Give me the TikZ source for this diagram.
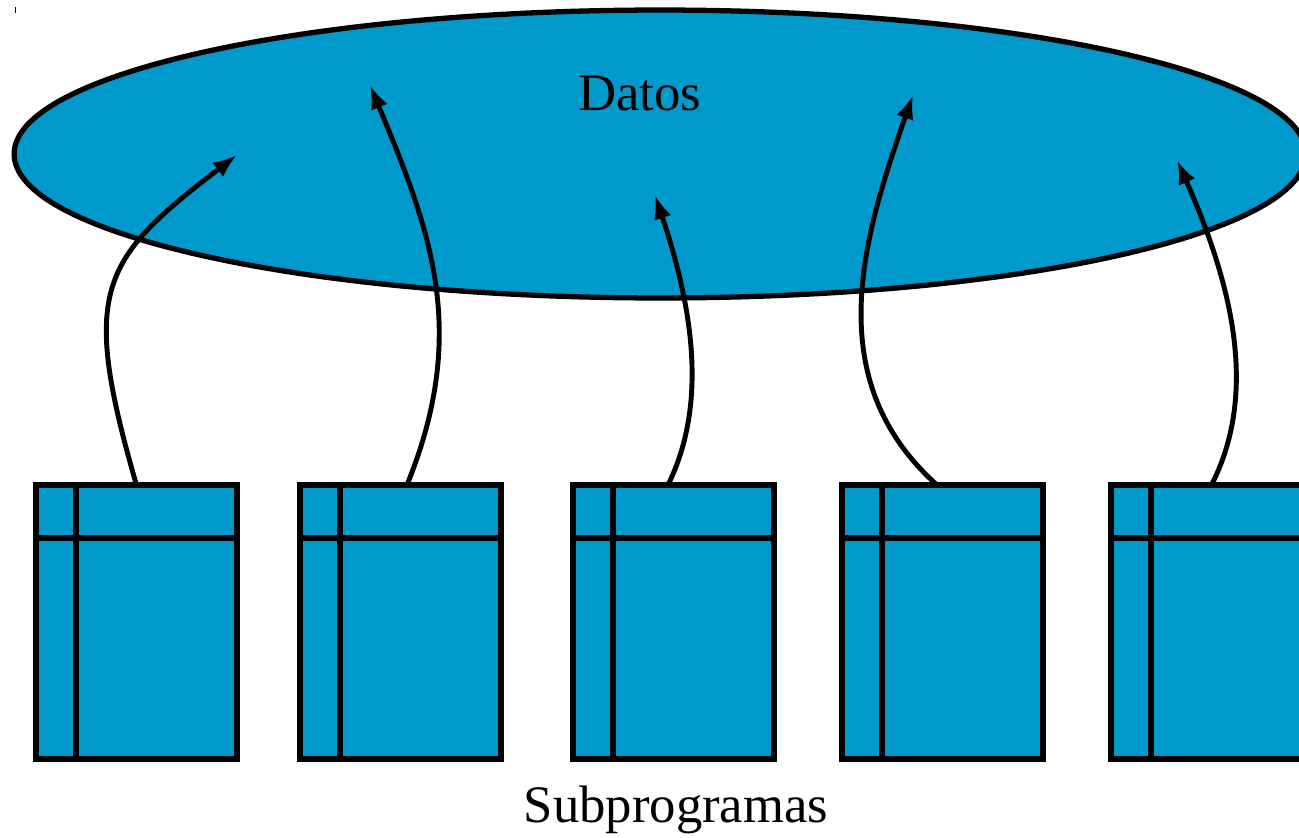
\documentclass[tikz,border=0pt]{standalone}
\usepackage{fontspec}
\setmainfont{Liberation Serif}
\usetikzlibrary{arrows.meta}
\usetikzlibrary{shapes.geometric}
\definecolor{azul}{RGB}{0,153,204}
\tikzset{flecha/.style = {-{Latex[length=4.8mm, width=3.6mm]}, line width=2.8pt}}
\tikzset{subprog/.style = {draw, fill=azul, line width=3.2pt, rectangle, outer sep=0,
                           minimum width=4.02cm, minimum height=5.48cm, inner sep=0}}
\tikzset{rotulo/.style = {font=\fontsize{30}{36}\selectfont, anchor=base, inner sep=0}}

\begin{document}
\begin{tikzpicture}[x=0.02cm, y=-0.02cm]
      \useasboundingbox (0,0) rectangle (1299,838);
      \clip (0,0) rectangle (1299,838);
      \draw [line width=0.5pt] (15,7) -- (15,13);
      % los datos compartidos
      \node [ellipse, draw, fill=azul, line width=3pt, inner sep=0, outer sep=0,
             minimum width=25.84cm, minimum height=5.76cm] (datos) at (660,154) {};
      \node [rotulo] (tdatos) at (640,111) {Datos};
      % los subprogramas
      \foreach \x/\n in {36/1, 300/2, 573/3, 842/4, 1111/5} {
        \node [subprog, anchor=north west] (sub\n) at (\x,485) {};
        \draw [line width=3.2pt] ([yshift=-1.06cm]sub\n.north west) -- ([yshift=-1.06cm]sub\n.north east);
        \draw [line width=3.2pt] ([xshift=0.8cm]sub\n.north west) -- ([xshift=0.8cm]sub\n.south west);
      }
      \node [rotulo] (tsub) at (676,822) {Subprogramas};
      % accesos
      \coordinate (p1) at (237,155);
      \coordinate (p2) at (370,85);
      \coordinate (p3) at (655,195);
      \coordinate (p4) at (913,95);
      \coordinate (p5) at (1177,160);
      \draw [flecha] (sub1.north) .. controls (80,290) and (100,260) .. (p1);
      \draw [flecha] ([xshift=0.13cm]sub2.north) .. controls (470,330) and (430,230) .. (p2);
      \draw [flecha] ([xshift=-0.11cm]sub3.north) .. controls (710,400) and (690,300) .. (p3);
      \draw [flecha] ([xshift=-0.11cm]sub4.north) .. controls (820,380) and (862,240) .. (p4);
      \draw [flecha] (sub5.north) .. controls (1260,390) and (1230,280) .. (p5);
\end{tikzpicture}
\end{document}
